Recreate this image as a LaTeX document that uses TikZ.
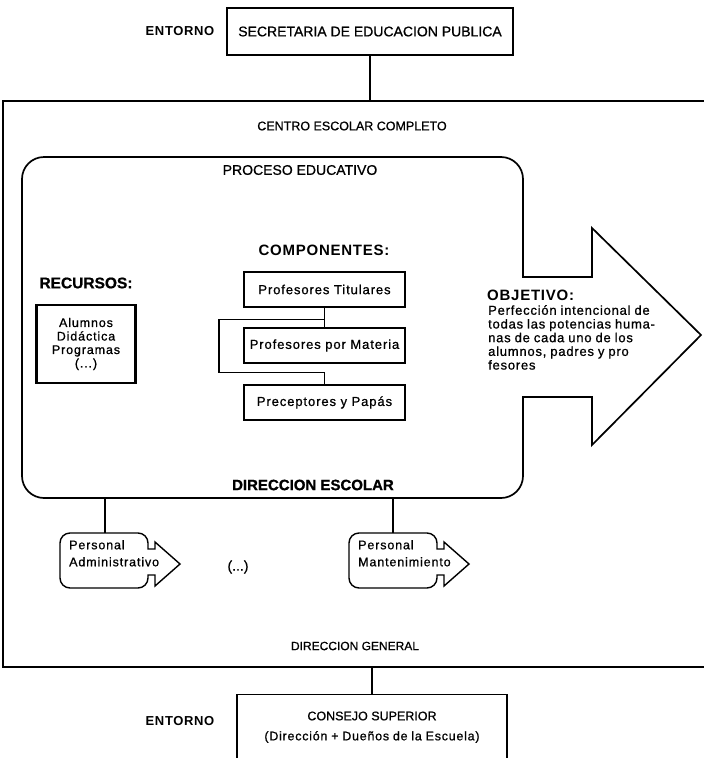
\documentclass[tikz,border=0pt]{standalone}
\usepackage{fontspec}
\setmainfont{Liberation Sans}[FakeBold=0.8]
\newfontfamily\spaced{Liberation Sans}[LetterSpace=7,FakeBold=0.8]
\newfontfamily\wide{Liberation Sans}[LetterSpace=6,WordSpace=0.9,FakeBold=0.8]
\newfontfamily\headfont{Liberation Sans}[LetterSpace=5]
\newcommand{\fsz}[2]{\fontsize{#1}{#2}\selectfont}

\begin{document}
\begin{tikzpicture}[x=1pt,y=-1pt,line join=miter]
\tikzset{
  thin line/.style={line width=1.3pt},
  frame line/.style={line width=1.5pt},
  outline/.style={line width=1.7pt},
  plain box/.style={draw,line width=1.4pt,inner sep=0pt},
  comp box/.style={draw,line width=2.6pt,minimum width=161pt,minimum height=35pt,
    inner sep=0pt,font=\spaced\fsz{13}{15}},
  head/.style={inner sep=0pt,font=\bfseries\fsz{15}{17}},
  caption/.style={inner sep=0pt},
  staff text/.style={inner sep=0pt,anchor=north west,align=left,font=\spaced\fsz{12.5}{17}},
  staff/.pic={
    \draw[line width=1.4pt] (10,0) -- (78,0) arc[start angle=-90,end angle=0,radius=10]
      -- (88,16) -- (95,16) -- (95,9) -- (120,31) -- (95,53) -- (95,42) -- (88,42)
      -- (88,45) arc[start angle=0,end angle=90,radius=10]
      -- (10,55) arc[start angle=90,end angle=180,radius=10]
      -- (0,10) arc[start angle=180,end angle=270,radius=10] -- cycle;
  }
}
\useasboundingbox (0,0) rectangle (704,758);
\fill[white] (0,0) rectangle (704,758);

% ---- environment: ministry
\node[caption,font=\headfont\bfseries\fsz{13}{15}] (ent1) at (180,31) {ENTORNO};
\node[plain box,minimum width=286pt,minimum height=47pt,font=\fsz{14}{16}] (sep) at (370,31.5)
  {SECRETARIA DE EDUCACION PUBLICA};

% ---- school frame (open on the right)
\coordinate (ft) at (0,101);
\coordinate (fb) at (0,667);
\draw[frame line] (720,101) -- (3,101) -- (3,667) -- (720,667);
\draw[thin line] (sep.south) -- (sep.south |- ft);
\node[caption,font=\fsz{12.5}{15}] (centro) at (352,126) {CENTRO ESCOLAR COMPLETO};

% ---- educational process outline with the objective arrow
\draw[outline] (44,157) -- (501,157) arc[start angle=-90,end angle=0,radius=22]
  -- (523,277) -- (592,277) -- (592,228) -- (701,335) -- (592,445) -- (592,397) -- (523,397)
  -- (523,476) arc[start angle=0,end angle=90,radius=22]
  -- (44,498) arc[start angle=90,end angle=180,radius=22]
  -- (22,179) arc[start angle=180,end angle=270,radius=22] -- cycle;
\coordinate (pb) at (0,498);
\node[caption,font=\fsz{14}{16}] (proc) at (300,170) {PROCESO EDUCATIVO};

% ---- resources
\node[head,font=\bfseries\fsz{15.5}{17}] (rech) at (86,283) {RECURSOS:};
\node[draw,line width=2.4pt,minimum width=99pt,minimum height=78pt,inner sep=0pt,
  align=center,font=\spaced\fsz{12.5}{13.5}] (rec) at (86,344)
  {Alumnos\\Didáctica\\Programas\\(...)};

% ---- components
\node[head,font=\headfont\bfseries\fsz{15}{17}] (comp) at (324,250) {COMPONENTES:};
\node[comp box] (tit) at (324.5,289.5) {Profesores Titulares};
\node[comp box] (mat) at (324.5,345.5) {Profesores por Materia};
\node[comp box] (pre) at (324.5,402.5) {Preceptores y Papás};
\path (tit.south) ++(0,11) coordinate (j1);
\path (pre.north) ++(0,-11) coordinate (j2);
\coordinate (loopx) at (219,0);
\draw[thin line] (tit.south) -- (mat.north);
\draw[thin line] (j1) -- (j1 -| loopx) -- (j2 -| loopx) -- (j2) -- (pre.north);

% ---- objective
\node[head,anchor=west,font=\headfont\bfseries\fsz{15}{17}] (objh) at (487,295) {OBJETIVO:};
\node[inner sep=0pt,anchor=north west,align=left,font=\wide\fsz{13}{13.7}] (objt) at (488,305)
  {Perfección intencional de\\todas las potencias huma-\\nas de cada uno de los\\alumnos, padres y pro\\fesores};

\node[head] (dire) at (313,485) {DIRECCION ESCOLAR};

% ---- staff under school management
\pic at (60,533) {staff};
\pic at (349,533) {staff};
\coordinate (admtop) at (105,533);
\coordinate (mantop) at (393,533);
\node[staff text] (adm) at (69,540) {Personal\\Administrativo};
\node[staff text] (man) at (358,540) {Personal\\Mantenimiento};
\node[caption,font=\fsz{14}{16}] (etc) at (238,567) {(...)};
\draw[thin line] (pb -| admtop) -- (admtop);
\draw[thin line] (pb -| mantop) -- (mantop);

\node[caption,font=\fsz{12}{14}] (dgen) at (355,646) {DIRECCION GENERAL};

% ---- environment: board
\node[draw,line width=1.4pt,minimum width=270pt,minimum height=75pt,anchor=north,inner sep=0pt] (cons) at (372,694) {};
\draw[thin line] (cons.north |- fb) -- (cons.north);
\node[caption,font=\fsz{12.5}{14}] (consa) at (372,716) {CONSEJO SUPERIOR};
\node[caption,font=\wide\fsz{12.5}{14}] (consb) at (372,737) {(Dirección + Dueños de la Escuela)};
\node[caption,font=\headfont\bfseries\fsz{13}{15}] (ent2) at (180,721) {ENTORNO};
\end{tikzpicture}
\end{document}
